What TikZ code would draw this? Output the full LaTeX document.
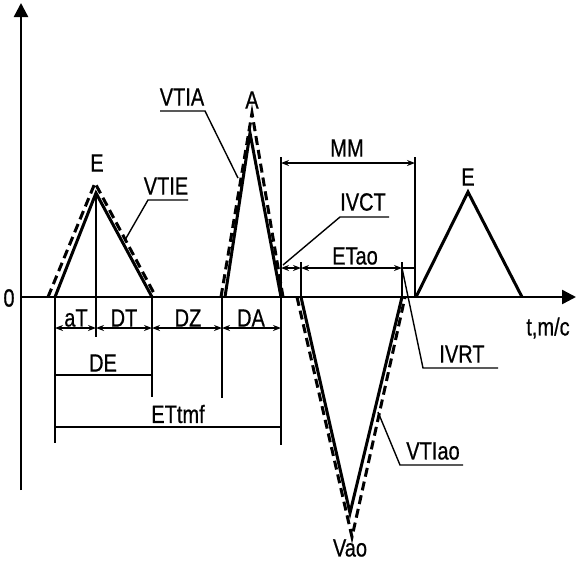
\documentclass[tikz,border=0pt]{standalone}
\usepackage{fontspec}
\setmainfont[FakeStretch=0.8, FakeBold=0.6]{Liberation Sans}
\usetikzlibrary{arrows.meta}

\begin{document}
\begin{tikzpicture}[
    x=1pt, y=-1pt,
    lbl/.style={font=\fontsize{25}{30}\selectfont, inner sep=0pt},
    wave/.style={line width=3pt, line join=miter},
    ghost/.style={line width=3pt, dash pattern=on 9pt off 5pt},
    thin/.style={line width=1.4pt},
    axis/.style={line width=2.5pt, -{Triangle[length=14pt, width=14pt]}},
    dim/.style={thin, {Stealth[length=8pt, width=6pt]}-{Stealth[length=8pt, width=6pt]}}
]
\useasboundingbox (0,0) rectangle (576,563);

% axes
\coordinate (ybot) at (21,490);
\coordinate (ytop) at (21,3);
\coordinate (xl) at (21,297);
\coordinate (xr) at (576,297);
\draw[axis] (ybot) -- (ytop);
\draw[axis] (xl) -- (xr);
\node[lbl] (zero) at (9,298) {0};
\node[lbl] (tms) at (548,328) {t,m/c};

% key points
\coordinate (e1l) at (55,297);
\coordinate (e1t) at (96,193);
\coordinate (e1r) at (152,297);
\coordinate (a1l) at (225,297);
\coordinate (a1t) at (250,133);
\coordinate (a1r) at (281,297);
\coordinate (v1l) at (301,297);
\coordinate (v1b) at (350,513);
\coordinate (v1r) at (402,297);
\coordinate (e2l) at (416,297);
\coordinate (e2t) at (468,192);
\coordinate (e2r) at (522,297);

% waves
\draw[wave] (e1l) -- (e1t) -- (e1r);
\draw[wave] (a1l) -- (a1t) -- (a1r);
\draw[wave] (v1l) -- (v1b) -- (v1r);
\draw[wave] (e2l) -- (e2t) -- (e2r);
\draw[ghost] (48,297) -- (95,183) -- (156,297);
\draw[ghost] (221,297) -- (252,113) -- (283,297);
\draw[ghost] (297,297) -- (352,537) -- (405,297);

\node[lbl] (e1) at (97,163) {E};
\node[lbl] (a1) at (252,100) {A};
\node[lbl] (e2) at (468,177) {E};
\node[lbl] (vao) at (350,548) {Vao};

% extension lines
\coordinate (c1) at (55,443);
\coordinate (c2) at (96,337);
\coordinate (c3) at (152,397);
\coordinate (c4) at (222,297);
\coordinate (c5) at (222,398);
\coordinate (mmtop) at (281,157);
\coordinate (mmbot) at (281,445);
\coordinate (mmr) at (415,157);
\coordinate (mmrb) at (415,297);
\draw[thin] (e1l) -- (c1);
\draw[thin] (e1t) -- (c2);
\draw[thin] (e1r) -- (c3);
\draw[thin] (c4) -- (c5);
\draw[thin] (mmtop) -- (mmbot);
\draw[thin] (mmr) -- (mmrb);
\draw[thin] (301,262) -- (v1l);
\draw[thin] (402,262) -- (v1r);

% dimensions
\draw[dim] (55,328) -- (96,328);
\draw[dim] (96,328) -- (152,328);
\draw[dim] (152,328) -- (222,328);
\draw[dim] (222,328) -- (281,328);
\node[lbl] (at) at (76,318) {aT};
\node[lbl] (dt) at (124,318) {DT};
\node[lbl] (dz) at (188,318) {DZ};
\node[lbl] (da) at (251,318) {DA};
\draw[thin] (55,375) -- (152,375);
\node[lbl] (de) at (103,363) {DE};
\draw[thin] (55,427) -- (281,427);
\node[lbl] (ettmf) at (178,414) {ETtmf};
\draw[dim] (281,163) -- (415,163);
\node[lbl] (mm) at (347,148) {MM};
\coordinate (iv1) at (281,268);
\coordinate (iv2) at (301,268);
\coordinate (iv3) at (402,268);
\coordinate (iv4) at (415,268);
\draw[dim] (iv1) -- (iv2);
\draw[dim] (iv2) -- (iv3);
\draw[thin] (iv3) -- (iv4);
\node[lbl] (etao) at (355,256) {ETao};

% leaders
\draw[thin] (125,240) -- (148,200) -- (188,200);
\node[lbl] (vtie) at (166,186) {VTIE};
\draw[thin] (238,178) -- (205,111) -- (160,111);
\node[lbl] (vtia) at (182,97) {VTIA};
\draw[thin] (283,265) -- (340,217) -- (389,217);
\node[lbl] (ivct) at (363,202) {IVCT};
\draw[thin] (iv3) -- (423,368) -- (498,368);
\node[lbl] (ivrt) at (462,354) {IVRT};
\draw[thin] (378,412) -- (400,465) -- (463,465);
\node[lbl] (vtiao) at (433,451) {VTIao};
\end{tikzpicture}
\end{document}
